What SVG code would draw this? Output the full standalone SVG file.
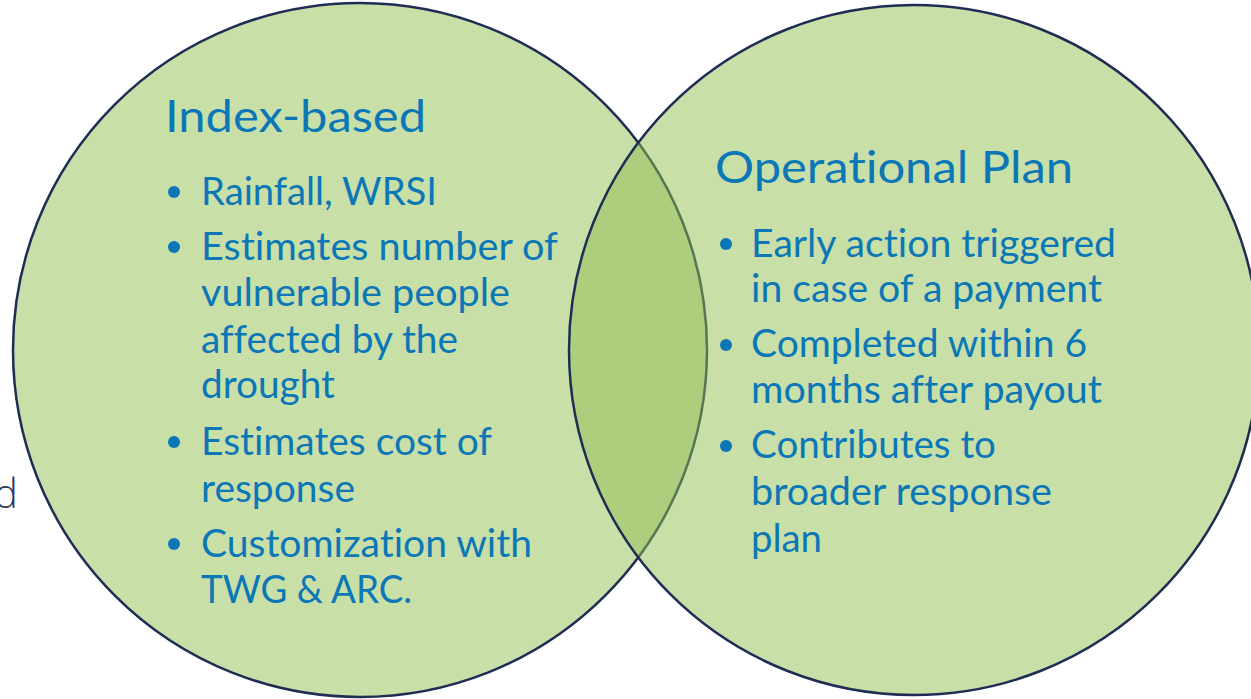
<svg xmlns="http://www.w3.org/2000/svg" width="1251" height="699" viewBox="0 0 1251 699">
  <style>
    .circ { stroke: #1f2d55; stroke-width: 2.5; }
    .title { font-family: Lato, "Open Sans", sans-serif; font-size: 45px; fill: #0b77b6; font-variant-ligatures: none; }
    .item { font-family: Lato, "Open Sans", sans-serif; font-size: 38px; fill: #0b77b6; font-variant-ligatures: none; }
    .dot { fill: #0b77b6; }
    .stray { font-family: "Open Sans", sans-serif; font-weight: 300; font-size: 40px; fill: #2e3a57; }
  </style>
  <rect width="1251" height="699" fill="#ffffff"/>
  <text class="stray" x="-6" y="508">d</text>
  <g id="index-based">
    <circle class="circ" cx="360" cy="350" r="347" fill="#c8dfa8"/>
  </g>
  <g id="operational-plan">
    <circle class="circ" cx="914" cy="350" r="345" fill="#91bf51" fill-opacity="0.5"/>
  </g>
  <g id="index-based-text">
    <text class="title" x="165" y="132" textLength="261" lengthAdjust="spacingAndGlyphs">Index-based</text>
    <circle class="dot" cx="174" cy="192" r="6"/>
    <text class="item" x="201" y="205" textLength="236" lengthAdjust="spacingAndGlyphs">Rainfall, WRSI</text>
    <circle class="dot" cx="174" cy="247" r="6"/>
    <text class="item" x="201" y="260" textLength="357" lengthAdjust="spacingAndGlyphs">Estimates number of</text>
    <text class="item" x="201" y="306" textLength="309" lengthAdjust="spacingAndGlyphs">vulnerable people</text>
    <text class="item" x="201" y="353" textLength="257" lengthAdjust="spacingAndGlyphs">affected by the</text>
    <text class="item" x="201" y="398" textLength="134" lengthAdjust="spacingAndGlyphs">drought</text>
    <circle class="dot" cx="174" cy="442" r="6"/>
    <text class="item" x="201" y="455" textLength="291" lengthAdjust="spacingAndGlyphs">Estimates cost of</text>
    <text class="item" x="201" y="502" textLength="154" lengthAdjust="spacingAndGlyphs">response</text>
    <circle class="dot" cx="174" cy="544" r="6"/>
    <text class="item" x="201" y="557" textLength="331" lengthAdjust="spacingAndGlyphs">Customization with</text>
    <text class="item" x="201" y="603" textLength="211" lengthAdjust="spacingAndGlyphs">TWG &amp; ARC.</text>
  </g>
  <g id="operational-plan-text">
    <text class="title" x="715" y="183" textLength="358" lengthAdjust="spacingAndGlyphs">Operational Plan</text>
    <circle class="dot" cx="726" cy="244" r="6"/>
    <text class="item" x="751" y="257" textLength="365" lengthAdjust="spacingAndGlyphs">Early action triggered</text>
    <text class="item" x="751" y="302" textLength="351" lengthAdjust="spacingAndGlyphs">in case of a payment</text>
    <circle class="dot" cx="726" cy="345" r="6"/>
    <text class="item" x="751" y="357" textLength="336" lengthAdjust="spacingAndGlyphs">Completed within 6</text>
    <text class="item" x="751" y="403" textLength="351" lengthAdjust="spacingAndGlyphs">months after payout</text>
    <circle class="dot" cx="726" cy="446" r="6"/>
    <text class="item" x="751" y="458" textLength="245" lengthAdjust="spacingAndGlyphs">Contributes to</text>
    <text class="item" x="751" y="505" textLength="301" lengthAdjust="spacingAndGlyphs">broader response</text>
    <text class="item" x="751" y="552" textLength="71" lengthAdjust="spacingAndGlyphs">plan</text>
  </g>
</svg>
